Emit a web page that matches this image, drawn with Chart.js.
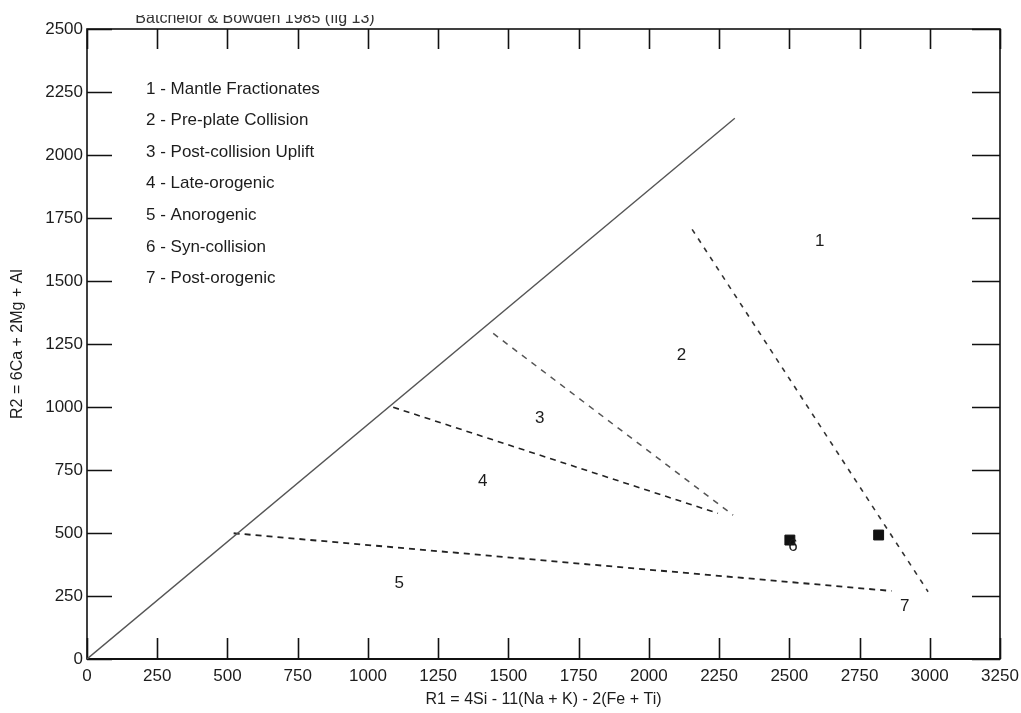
<!DOCTYPE html>
<html>
<head>
<meta charset="utf-8">
<script src="https://cdn.jsdelivr.net/npm/chart.js@4/dist/chart.umd.min.js"></script>
<style>
html,body{margin:0;padding:0;background:#fff;}
#wrap{width:1021px;height:713px;position:relative;}
</style>
</head>
<body>
<div id="wrap"><canvas id="c" width="1021" height="713"></canvas></div>
<script>
// ---- data ----
const xAxisTitle = 'R1 = 4Si - 11(Na + K) - 2(Fe + Ti)';
const yAxisTitle = 'R2 = 6Ca + 2Mg + Al';
const subTitle = 'Batchelor & Bowden 1985 (fig 13)';
const xRange = [0, 3250];
const yRange = [0, 2500];
const tickStep = 250;

// boundary lines (R1, R2)
const diagonalX = [0, 2306];
const diagonalY = [0, 2146];
const line12X = [2154, 2994];
const line12Y = [1705, 267];
const line23X = [1446, 2300];
const line23Y = [1292, 571];
const line34X = [1090, 2246];
const line34Y = [999, 578];
const line45X = [522, 2864];
const line45Y = [499, 270];

// samples
const sampleX = [2502, 2818];
const sampleY = [472, 492];

// region numbers
const regionLabels = ['1', '2', '3', '4', '5', '6', '7'];
const regionX = [2608, 2116, 1612, 1409, 1111, 2513, 2911];
const regionY = [1656, 1206, 955, 706, 300, 446, 208];

// legend
const legendLabels = [
  '1 - Mantle Fractionates',
  '2 - Pre-plate Collision',
  '3 - Post-collision Uplift',
  '4 - Late-orogenic',
  '5 - Anorogenic',
  '6 - Syn-collision',
  '7 - Post-orogenic'
];

// ---- build ----
const FONT = '"Liberation Sans", Arial, sans-serif';
const TXT = '#1c1c1c';
const pts = (xs, ys) => xs.map((x, i) => ({x: x, y: ys[i]}));

function lineDs(xs, ys, color, width, dash) {
  return {
    type: 'line',
    data: pts(xs, ys),
    borderColor: color,
    borderWidth: width,
    borderDash: dash,
    pointRadius: 0,
    fill: false,
    tension: 0
  };
}

const framePlugin = {
  id: 'frame',
  beforeDatasetsDraw(chart) {
    const {ctx, chartArea: a, scales: {x, y}} = chart;
    ctx.save();
    ctx.strokeStyle = '#111';
    ctx.lineWidth = 1.6;
    ctx.strokeRect(a.left, a.top, a.right - a.left, a.bottom - a.top);
    ctx.lineWidth = 2.2;
    ctx.beginPath();
    ctx.moveTo(a.left, a.bottom); ctx.lineTo(a.right, a.bottom);
    ctx.stroke();
    ctx.lineWidth = 1.6;
    ctx.beginPath();
    x.ticks.forEach(t => {
      const px = Math.round(x.getPixelForValue(t.value)) + 0.5;
      ctx.moveTo(px, a.bottom); ctx.lineTo(px, a.bottom - 21);
      ctx.moveTo(px, a.top); ctx.lineTo(px, a.top + 20);
    });
    y.ticks.forEach(t => {
      const py = Math.round(y.getPixelForValue(t.value)) + 0.5;
      ctx.moveTo(a.left, py); ctx.lineTo(a.left + 25, py);
      ctx.moveTo(a.right, py); ctx.lineTo(a.right - 28, py);
    });
    ctx.stroke();
    ctx.restore();
  },
  afterDraw(chart) {
    const {ctx, chartArea: a, scales: {x, y}} = chart;
    ctx.save();
    ctx.fillStyle = TXT;
    // region numbers
    ctx.font = '17px ' + FONT;
    ctx.textAlign = 'center';
    ctx.textBaseline = 'middle';
    regionLabels.forEach((l, i) => {
      ctx.fillText(l, x.getPixelForValue(regionX[i]), y.getPixelForValue(regionY[i]));
    });
    // legend text block
    ctx.textAlign = 'left';
    legendLabels.forEach((l, i) => {
      ctx.fillText(l, a.left + 59, a.top + 60 + i * 31.6);
    });
    // clipped subtitle at top
    ctx.beginPath();
    ctx.rect(0, 15, chart.width, 12);
    ctx.clip();
    ctx.fillStyle = '#333';
    ctx.font = '16px ' + FONT;
    ctx.textAlign = 'center';
    ctx.textBaseline = 'alphabetic';
    ctx.fillText(subTitle, 255, 23);
    ctx.restore();
  }
};

const plain = v => String(v);

new Chart(document.getElementById('c'), {
  type: 'scatter',
  data: {
    datasets: [
      lineDs(diagonalX, diagonalY, '#555', 1.4, []),
      lineDs(line12X, line12Y, '#333', 1.6, [5, 6]),
      lineDs(line23X, line23Y, '#555', 1.5, [6, 6]),
      lineDs(line34X, line34Y, '#222', 1.6, [6, 5]),
      lineDs(line45X, line45Y, '#222', 1.8, [6, 5]),
      {
        type: 'scatter',
        data: pts(sampleX, sampleY),
        pointStyle: 'rect',
        pointRadius: 7,
        backgroundColor: '#111',
        borderColor: '#111',
        borderWidth: 1
      }
    ]
  },
  options: {
    responsive: false,
    animation: false,
    devicePixelRatio: 1,
    layout: {padding: {top: 29, right: 21, left: 0, bottom: 0}},
    plugins: {legend: {display: false}, tooltip: {enabled: false}, title: {display: false}},
    scales: {
      x: {
        type: 'linear',
        min: xRange[0], max: xRange[1],
        grid: {display: false, drawTicks: false},
        border: {display: false},
        ticks: {stepSize: tickStep, maxTicksLimit: 30, autoSkip: false, padding: 7, color: TXT,
                font: {family: FONT, size: 17}, maxRotation: 0, callback: plain},
        title: {display: true, text: xAxisTitle, color: TXT, font: {family: FONT, size: 16},
                padding: {top: 0, bottom: 4}},
        afterFit(s) { s.height = 54; s.paddingRight = 0; s.paddingLeft = 0; }
      },
      y: {
        type: 'linear',
        min: yRange[0], max: yRange[1],
        grid: {display: false, drawTicks: false},
        border: {display: false},
        ticks: {stepSize: tickStep, maxTicksLimit: 30, autoSkip: false, padding: 4, color: TXT,
                font: {family: FONT, size: 17}, callback: plain},
        title: {display: true, text: yAxisTitle, color: TXT, font: {family: FONT, size: 16},
                padding: {top: 8, bottom: 0}},
        afterFit(s) { s.width = 87; s.paddingTop = 0; s.paddingBottom = 0; }
      }
    }
  },
  plugins: [framePlugin]
});
</script>
</body>
</html>
